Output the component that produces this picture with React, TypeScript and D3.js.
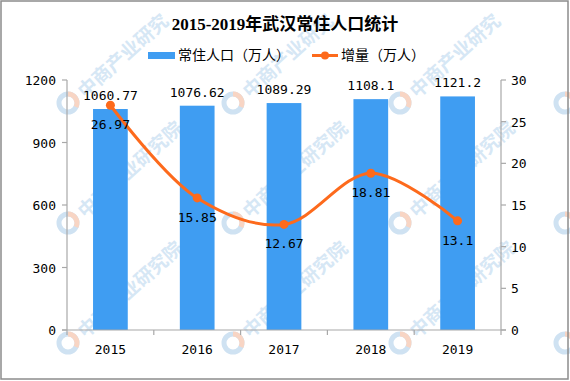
import React from "react";
import * as d3 from "d3";

const years = ["2015", "2016", "2017", "2018", "2019"];
const population = [1060.77, 1076.62, 1089.29, 1108.1, 1121.2];
const popLabels = ["1060.77", "1076.62", "1089.29", "1108.1", "1121.2"];
const growth = [26.97, 15.85, 12.67, 18.81, 13.1];
const growthLabels = ["26.97", "15.85", "12.67", "18.81", "13.1"];
const leftTicks = [0, 300, 600, 900, 1200];
const rightTicks = [0, 5, 10, 15, 20, 25, 30];
const title = "2015-2019年武汉常住人口统计";
const legendBar = "常住人口（万人）";
const legendLine = "增量（万人）";
const watermark = "中商产业研究院";

const W = 570;
const H = 381;
const BLUE = "#3f9df2";
const ORANGE = "#fd6a1c";
const AXIS = "#a8a8a8";
const MONO = "'DejaVu Sans Mono', monospace";
const CJK = "'Noto Sans CJK SC', sans-serif";

export default function App() {
  const left = 67, right = 501, top = 80, bottom = 330;
  const x = d3.scaleBand<string>().domain(years).range([left, right]).padding(0);
  const yL = d3.scaleLinear().domain([0, 1200]).range([bottom, top]);
  const yR = d3.scaleLinear().domain([0, 30]).range([bottom, top]);
  const bw = x.bandwidth() * 0.4;
  const cx = (d: string) => (x(d) as number) + x.bandwidth() / 2;

  const line = d3
    .line<number>()
    .x((_, i) => cx(years[i]))
    .y((d) => yR(d))
    .curve(d3.curveCatmullRom.alpha(0.5));

  const wmX = [-97, 68, 233, 400, 565];
  const wmY = [103, 223, 343];
  const ang = (-42 * Math.PI) / 180;
  const chars = Array.from(watermark);
  const marks: React.ReactNode[] = [];
  wmX.forEach((wx) =>
    wmY.forEach((wy) => {
      if (wx > -12 && wx < W + 12) {
        marks.push(
          <g key={`l${wx}-${wy}`} transform={`translate(${wx},${wy})`}>
            <circle r={9} fill="none" stroke="#cfe2f2" strokeWidth={5} />
            <path d="M0,-9 A9,9 0 0,1 8,4" fill="none" stroke="#f8d5c4" strokeWidth={5} />
          </g>
        );
      }
      chars.forEach((ch, i) => {
        const u = 25 + 19 * i;
        const v = 0;
        const X = wx + u * Math.cos(ang) - v * Math.sin(ang);
        const Y = wy + u * Math.sin(ang) + v * Math.cos(ang);
        if (X < 11 || X > W - 11 || Y < 11 || Y > H - 11) return;
        marks.push(
          <text
            key={`c${wx}-${wy}-${i}`}
            transform={`translate(${X},${Y}) rotate(-42)`}
            textAnchor="middle"
            dominantBaseline="central"
            fontFamily={CJK}
            fontSize={19}
            fontWeight="bold"
            fill="#d6e7f5"
          >
            {ch}
          </text>
        );
      });
    })
  );

  return (
    <svg width={W} height={H} style={{ position: "absolute", left: 0, top: 0, background: "#fff" }}>
      <rect x={0} y={0} width={W} height={H} fill="#fff" />
      <g>{marks}</g>

      {/* bars */}
      {years.map((yr, i) => (
        <rect
          key={yr}
          x={cx(yr) - bw / 2}
          y={yL(population[i])}
          width={bw}
          height={bottom - yL(population[i])}
          fill={BLUE}
        />
      ))}

      {/* axes */}
      <g stroke={AXIS} strokeWidth={1.2} fill="none">
        <line x1={left} y1={top} x2={left} y2={bottom} />
        <line x1={right} y1={top} x2={right} y2={bottom} />
        <line x1={left - 5} y1={bottom} x2={right + 5} y2={bottom} />
        {leftTicks.map((t) => (
          <line key={t} x1={left - 5} x2={left} y1={yL(t)} y2={yL(t)} />
        ))}
        {rightTicks.map((t) => (
          <line key={t} x1={right} x2={right + 5} y1={yR(t)} y2={yR(t)} />
        ))}
        {years.map((yr) => (
          <line key={yr} x1={x(yr) as number} x2={x(yr) as number} y1={bottom} y2={bottom + 5} />
        ))}
        <line x1={right} x2={right} y1={bottom} y2={bottom + 5} />
      </g>
      <g fontFamily={MONO} fontSize={13} fill="#000">
        {leftTicks.map((t) => (
          <text key={t} x={left - 11} y={yL(t) + 5} textAnchor="end">
            {t}
          </text>
        ))}
        {rightTicks.map((t) => (
          <text key={t} x={right + 10} y={yR(t) + 5} textAnchor="start">
            {t}
          </text>
        ))}
        {years.map((yr) => (
          <text key={yr} x={cx(yr)} y={bottom + 24} textAnchor="middle">
            {yr}
          </text>
        ))}
      </g>

      {/* line */}
      <path d={line(growth) || ""} fill="none" stroke={ORANGE} strokeWidth={3} />
      {growth.map((g, i) => (
        <circle key={i} cx={cx(years[i])} cy={yR(g)} r={4.5} fill={ORANGE} />
      ))}

      {/* data labels */}
      <g fontFamily={MONO} fontSize={13} fill="#000" textAnchor="middle">
        {years.map((yr, i) => (
          <text key={"p" + yr} x={cx(yr)} y={yL(population[i]) - 9}>
            {popLabels[i]}
          </text>
        ))}
        {years.map((yr, i) => (
          <text key={"g" + yr} x={cx(yr)} y={yR(growth[i]) + 24}>
            {growthLabels[i]}
          </text>
        ))}
      </g>

      {/* title */}
      <text
        x={285}
        y={30}
        textAnchor="middle"
        fontFamily="'Liberation Serif', 'Noto Sans CJK SC', serif"
        fontWeight="bold"
        fontSize={17}
        fill="#000"
      >
        {title}
      </text>

      {/* legend */}
      <rect x={148} y={52} width={27} height={7} fill={BLUE} />
      <text x={178} y={60} fontFamily={CJK} fontSize={14} fill="#000">
        {legendBar}
      </text>
      <line x1={312} x2={338} y1={55.5} y2={55.5} stroke={ORANGE} strokeWidth={3} />
      <circle cx={325} cy={55.5} r={4} fill={ORANGE} />
      <text x={341} y={60} fontFamily={CJK} fontSize={14} fill="#000">
        {legendLine}
      </text>

      {/* frame */}
      <rect x={1} y={1} width={567} height={378} fill="none" stroke="#8c8c8c" strokeWidth={1.5} />
    </svg>
  );
}
